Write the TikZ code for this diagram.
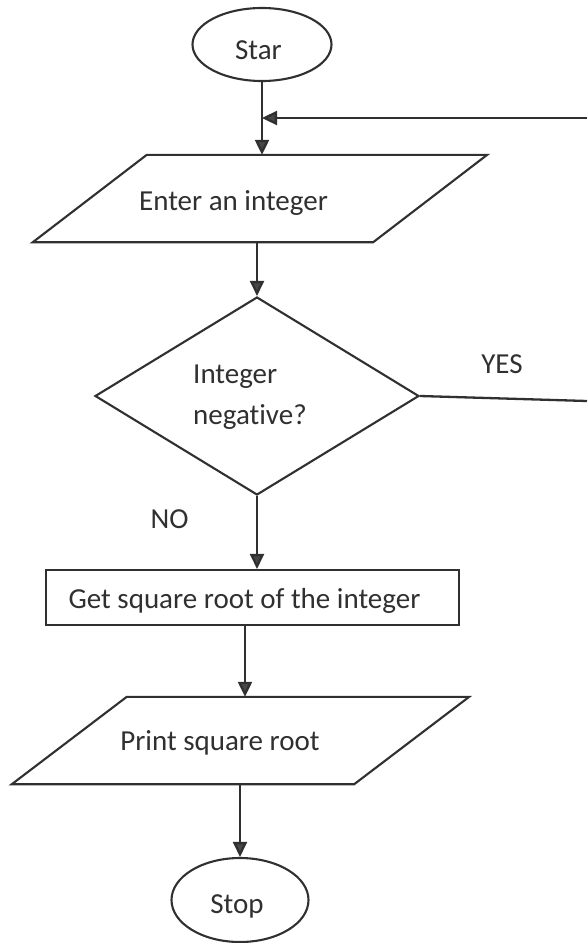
\documentclass[tikz,border=0pt]{standalone}
\usepackage{fontspec}
\setmainfont{Carlito}[Ligatures={NoCommon,NoContextual}]
\usetikzlibrary{shapes.geometric,arrows.meta}
\definecolor{ink}{HTML}{303030}
\definecolor{tipc}{HTML}{474747}
\begin{document}
\begin{tikzpicture}[x=1pt,y=-1pt,
  every node/.style={font=\fontsize{29pt}{40pt}\selectfont, text=ink},
  shapeline/.style={draw=ink, line width=2.1pt},
  term/.style={shapeline, ellipse, inner sep=0pt},
  iobox/.style={rectangle, inner sep=0pt},
  decision/.style={shapeline, diamond, inner sep=0pt},
  process/.style={shapeline, rectangle, inner sep=0pt},
  txt/.style={anchor=base, inner sep=0pt},
  conn/.style={draw=ink, line width=2.3pt},
  arr/.style={conn, -{Triangle[length=15pt,width=14pt,fill=tipc]}}
]
\useasboundingbox[fill=white] (0,0) rectangle (587,943);

% shapes
\node[term, minimum width=139pt, minimum height=73pt] (start) at (262,44.5) {};
\node[iobox, minimum width=454pt, minimum height=87pt] (enter) at (260,198.5) {};
\draw[shapeline] ([xshift=114pt]enter.north west) -- (enter.north east)
  -- ([xshift=-114pt]enter.south east) -- (enter.south west) -- cycle;
\node[decision, minimum width=324pt, minimum height=198pt] (dec) at (257,396) {};
\node[process, minimum width=413pt, minimum height=55pt] (proc) at (252.5,597.5) {};
\node[iobox, minimum width=457pt, minimum height=87pt] (print) at (240.5,740.5) {};
\draw[shapeline] ([xshift=115pt]print.north west) -- (print.north east)
  -- ([xshift=-115pt]print.south east) -- (print.south west) -- cycle;
\node[term, minimum width=137pt, minimum height=84pt] (stop) at (240,900) {};

% texts
\node[txt] (startT) at (258.5,59) {Star};
\node[txt] (enterT) at (233.5,210) {Enter an integer};
\node[txt, anchor=base west] (decT1) at (193,383) {Integer};
\node[txt, anchor=base west] (decT2) at (193,424) {negative?};
\node[txt] (yes) at (502,373) {YES};
\node[txt] (no) at (169.5,528) {NO};
\node[txt] (procT) at (244.5,608) {Get square root of the integer};
\node[txt] (printT) at (220,750) {Print square root};
\node[txt] (stopT) at (237,913) {Stop};

% connectors
\coordinate (loopR) at (587,118);
\coordinate (yesR) at (587,401);
\draw[arr] (start.south) -- (start.south |- enter.north);
\draw[arr] (loopR) -- (start.south |- loopR);
\draw[arr] (dec.north |- enter.south) -- (dec.north);
\draw[conn] (dec.east) -- (yesR);
\draw[arr] (dec.south) -- (dec.south |- proc.north);
\draw[arr] ([xshift=-7.5pt]proc.south) -- ([xshift=-7.5pt]proc.south |- print.north);
\draw[arr] (stop.north |- print.south) -- (stop.north);
\end{tikzpicture}
\end{document}
